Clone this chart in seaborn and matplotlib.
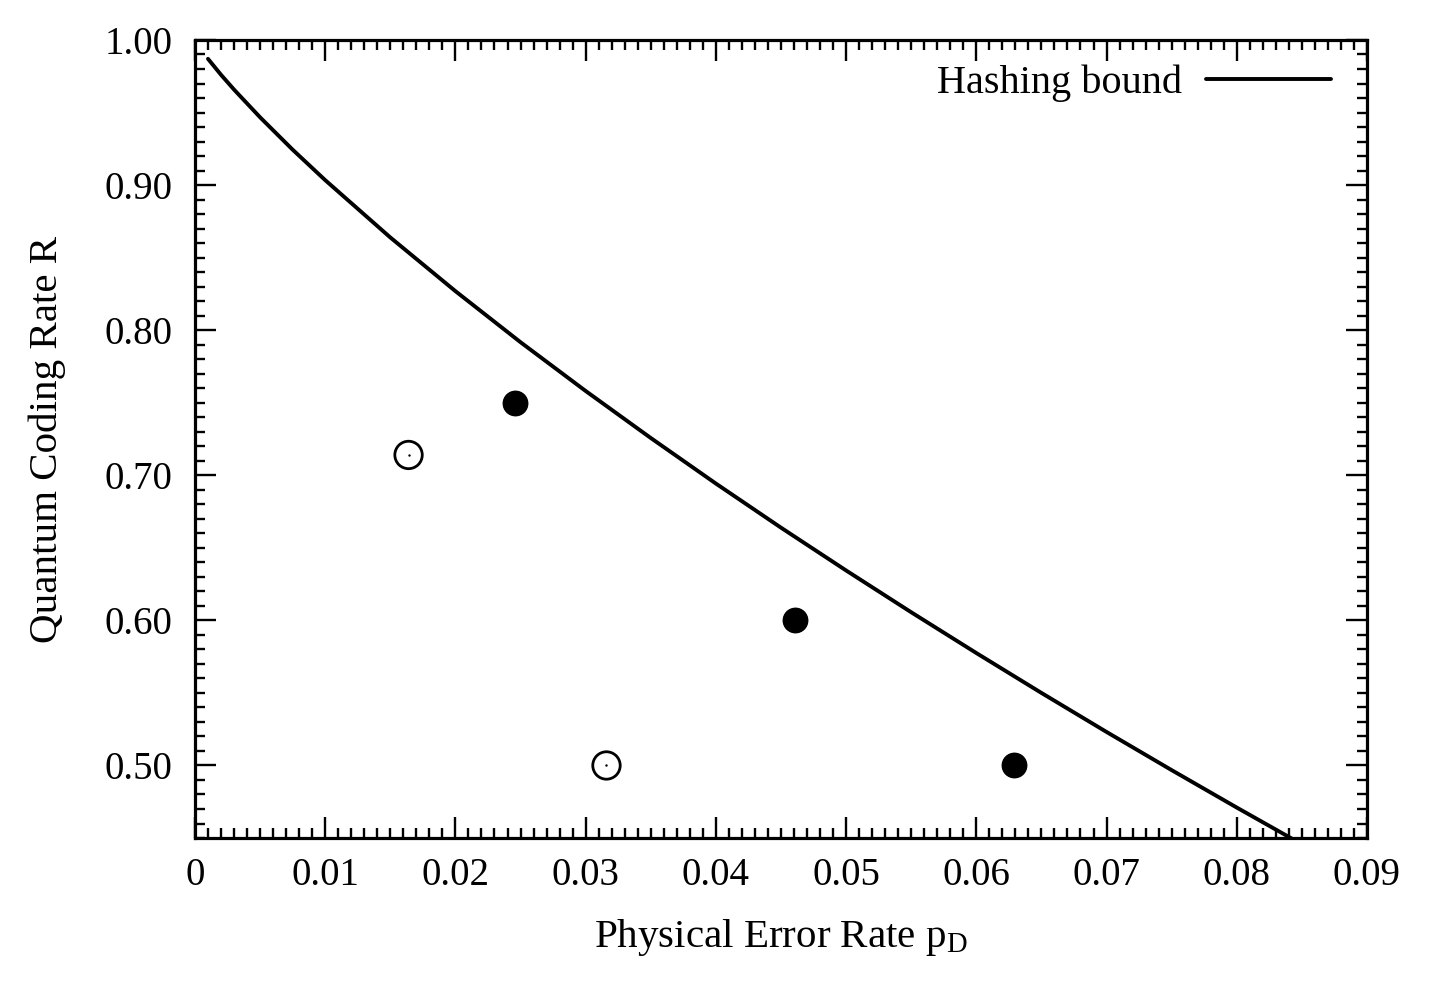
import matplotlib
matplotlib.use("Agg")
import matplotlib.pyplot as plt
import seaborn as sns
import pandas as pd
from matplotlib.ticker import MultipleLocator, FixedLocator, FixedFormatter

# Hashing bound curve
bound_p = [0.001, 0.002, 0.003, 0.005, 0.0075, 0.010, 0.015, 0.020, 0.025, 0.030, 0.035,
           0.040, 0.045, 0.050, 0.055, 0.060, 0.065, 0.070, 0.075, 0.080, 0.085]
bound_r = [0.9870, 0.9760, 0.9658, 0.9467, 0.9244, 0.9034, 0.8639, 0.8269, 0.7917, 0.7581, 0.7257,
           0.6943, 0.6639, 0.6344, 0.6056, 0.5775, 0.5500, 0.5231, 0.4968, 0.4710, 0.4457]

# Filled markers
filled_p = [0.0246, 0.0461, 0.0629]
filled_r = [0.750, 0.600, 0.500]

# Open markers
open_p = [0.0164, 0.0316]
open_r = [0.714, 0.500]

xticks = [0, 0.01, 0.02, 0.03, 0.04, 0.05, 0.06, 0.07, 0.08, 0.09]
xtick_labels = ["0", "0.01", "0.02", "0.03", "0.04", "0.05", "0.06", "0.07", "0.08", "0.09"]
yticks = [0.50, 0.60, 0.70, 0.80, 0.90, 1.00]
ytick_labels = ["0.50", "0.60", "0.70", "0.80", "0.90", "1.00"]

sns.set_style("ticks")
plt.rcParams['font.family'] = ['Liberation Serif', 'DejaVu Serif']
plt.rcParams['mathtext.fontset'] = 'custom'
plt.rcParams['mathtext.rm'] = 'Liberation Serif'
plt.rcParams['mathtext.it'] = 'Liberation Serif:italic'
plt.rcParams['text.color'] = 'black'
plt.rcParams['axes.labelcolor'] = 'black'
plt.rcParams['xtick.color'] = 'black'
plt.rcParams['ytick.color'] = 'black'

fig = plt.figure(figsize=(14.4, 10.07), dpi=100)
ax = fig.add_axes([0.1354, 0.1678, 0.8139, 0.7925])

df_bound = pd.DataFrame({"p": bound_p, "R": bound_r})
df_filled = pd.DataFrame({"p": filled_p, "R": filled_r})
df_open = pd.DataFrame({"p": open_p, "R": open_r})

sns.lineplot(data=df_bound, x="p", y="R", ax=ax, color="black", linewidth=2.8,
             label="Hashing bound", zorder=3)
sns.scatterplot(data=df_filled, x="p", y="R", ax=ax, color="black", s=310,
                marker="o", edgecolor="black", linewidth=1, zorder=4, legend=False)
sns.scatterplot(data=df_open, x="p", y="R", ax=ax, facecolor="none", s=390,
                marker="o", edgecolor="black", linewidth=2, zorder=4, legend=False)
sns.scatterplot(data=df_open, x="p", y="R", ax=ax, color="black", s=3,
                marker="o", linewidth=0, zorder=5, legend=False)

ax.set_xlim(0, 0.09)
ax.set_ylim(0.45, 1.00)
ax.xaxis.set_major_locator(FixedLocator(xticks))
ax.xaxis.set_major_formatter(FixedFormatter(xtick_labels))
ax.xaxis.set_minor_locator(MultipleLocator(0.001))
ax.yaxis.set_major_locator(FixedLocator(yticks))
ax.yaxis.set_major_formatter(FixedFormatter(ytick_labels))
ax.yaxis.set_minor_locator(MultipleLocator(0.01))

ax.tick_params(which="both", direction="in", top=True, right=True, colors="black",
               labelcolor="black", labelsize=28, width=1.7)
ax.tick_params(which="major", length=15)
ax.tick_params(axis="x", which="major", pad=14)
ax.tick_params(axis="y", which="major", pad=16)
ax.tick_params(which="minor", length=7)
for s in ax.spines.values():
    s.set_visible(True)
    s.set_linewidth(2.3)
    s.set_color("black")

ax.set_xlabel(r"Physical Error Rate $\mathregular{p_D}$", fontsize=29.5, labelpad=16,
              color="black")
ax.set_ylabel("Quantum Coding Rate R", fontsize=29.5, labelpad=28, color="black")

leg = ax.legend(loc="upper right", frameon=False, fontsize=29, markerfirst=False,
                handlelength=3.1, handletextpad=0.6, borderaxespad=0.2,
                bbox_to_anchor=(0.99, 1.0))
for t in leg.get_texts():
    t.set_color("black")

fig.savefig("out.png", dpi=100, facecolor="white")
